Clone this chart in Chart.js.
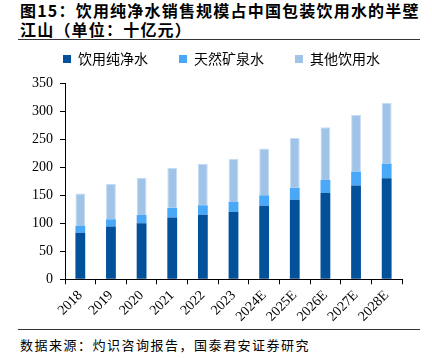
<!DOCTYPE html>
<html>
<head>
<meta charset="utf-8">
<script src="https://cdn.jsdelivr.net/npm/chart.js@4"></script>
<style>
  body { margin: 0; width: 432px; height: 358px; background: #fff; position: relative; overflow: hidden; }
  #title { position: absolute; left: 20px; top: 1px; width: 410px; white-space: nowrap; font: bold 16px "Noto Sans CJK SC", sans-serif; line-height: 19px; letter-spacing: 1.2px; color: #000; }
  #rule1 { position: absolute; left: 18px; top: 39px; width: 402px; height: 1px; background: #333; }
  #wrap { position: absolute; left: 0; top: 21px; width: 432px; height: 307px; }
  #rule2 { position: absolute; left: 18px; top: 329px; width: 402px; height: 1px; background: #333; }
  #source { position: absolute; left: 20px; top: 335px; font: 13px "Noto Sans CJK SC", sans-serif; letter-spacing: 1.5px; color: #000; }
</style>
</head>
<body>
<div id="title">图15：饮用纯净水销售规模占中国包装饮用水的半壁<br>江山（单位：十亿元）</div>
<div id="rule1"></div>
<div id="wrap"><canvas id="chart"></canvas></div>
<div id="rule2"></div>
<div id="source">数据来源：灼识咨询报告，国泰君安证券研究</div>
<script>
const years = ['2018', '2019', '2020', '2021', '2022', '2023', '2024E', '2025E', '2026E', '2027E', '2028E'];
const pureWater = [83, 94, 100, 110, 115, 120, 131, 142, 154, 167, 180];
const mineralWater = [12, 13, 14.5, 17.5, 17, 18, 19, 21, 23, 25, 26.5];
const otherWater = [58, 63, 66.5, 71, 74, 77, 83, 89, 94, 101, 108];
const seriesNames = ['饮用纯净水', '天然矿泉水', '其他饮用水'];

const serif = "'Liberation Serif', 'Times New Roman', serif";

// wide legend spacing: let it fit on one row and keep its box short
const legendFit = {
    id: 'legendFit',
    beforeInit(chart) {
        const fit = chart.legend.fit;
        chart.legend.fit = function() {
            const w = this.maxWidth;
            this.maxWidth = 800;
            fit.bind(chart.legend)();
            this.maxWidth = w;
            this.width = w;
            this.height = 62;
        };
    },
    afterLayout(chart) {
        chart.legend.right = chart.width;
    }
};

new Chart(document.getElementById('chart'), {
    type: 'bar',
    data: {
        labels: years,
        datasets: [
            { label: seriesNames[0], data: pureWater, backgroundColor: '#03519A' },
            { label: seriesNames[1], data: mineralWater, backgroundColor: '#4AA8F8' },
            {
                label: seriesNames[2], data: otherWater, backgroundColor: '#9FC4E8',
                borderColor: '#C6DCF2', borderWidth: { top: 1, left: 1, right: 1, bottom: 0 }, borderSkipped: false
            }
        ]
    },
    options: {
        responsive: true,
        maintainAspectRatio: false,
        animation: false,
        datasets: { bar: { categoryPercentage: 1, barPercentage: 0.32 } },
        layout: { padding: { left: 32, right: 30, top: 0, bottom: 0 } },
        plugins: {
            legend: {
                position: 'top',
                align: 'start',
                labels: {
                    boxWidth: 8,
                    boxHeight: 8,
                    padding: 31,
                    color: '#000',
                    font: { family: "'Noto Sans CJK SC', sans-serif", size: 14 },
                    generateLabels(chart) {
                        const items = Chart.defaults.plugins.legend.labels.generateLabels(chart);
                        items.forEach(it => { it.lineWidth = 0; });
                        return items;
                    }
                }
            },
            tooltip: { enabled: false }
        },
        scales: {
            x: {
                stacked: true,
                grid: { drawOnChartArea: false, drawTicks: true, tickLength: 5, color: '#000' },
                border: { color: '#000', width: 1 },
                ticks: {
                    color: '#000',
                    maxRotation: 45,
                    minRotation: 45,
                    font: { family: serif, size: 14 }
                }
            },
            y: {
                stacked: true,
                min: 0,
                max: 350,
                afterFit(scale) { scale.width = 33; },
                grid: { drawOnChartArea: false, drawTicks: true, tickLength: 5, color: '#000' },
                border: { color: '#000', width: 1 },
                ticks: {
                    stepSize: 50,
                    color: '#000',
                    padding: 7,
                    font: { family: serif, size: 14 }
                }
            }
        }
    },
    plugins: [legendFit]
});
</script>
</body>
</html>
